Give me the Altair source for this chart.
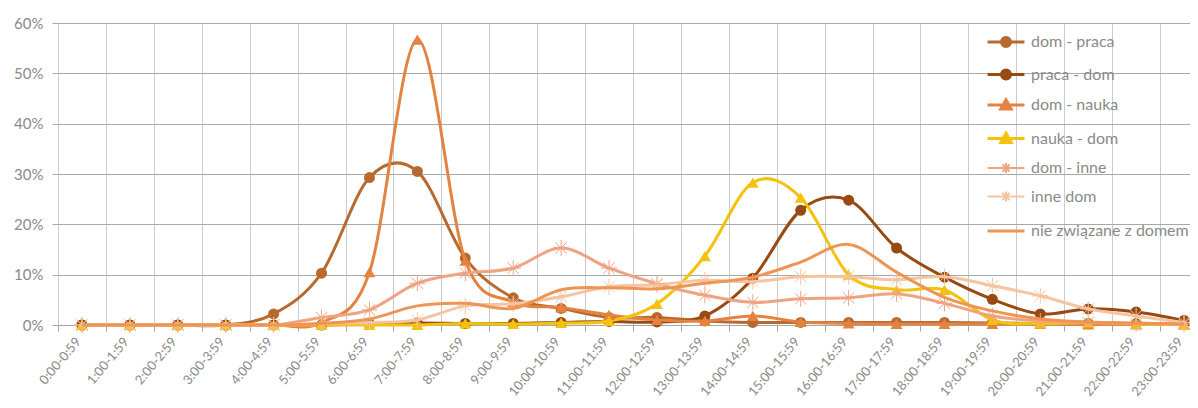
import altair as alt
import pandas as pd

hours = ["0:00-0:59", "1:00-1:59", "2:00-2:59", "3:00-3:59", "4:00-4:59", "5:00-5:59",
         "6:00-6:59", "7:00-7:59", "8:00-8:59", "9:00-9:59", "10:00-10:59", "11:00-11:59",
         "12:00-12:59", "13:00-13:59", "14:00-14:59", "15:00-15:59", "16:00-16:59",
         "17:00-17:59", "18:00-18:59", "19:00-19:59", "20:00-20:59", "21:00-21:59",
         "22:00-22:59", "23:00-23:59"]

series_names = ["dom - praca", "praca - dom", "dom - nauka", "nauka - dom",
                "dom - inne", "inne dom", "nie związane z domem"]

# values in percent
dom_praca = [0, 0, 0, 0, 2.2, 10.3, 29.3, 30.5, 13.3, 5.4, 3.3, 1.5, 1.5, 0.8, 0.5, 0.5, 0.5, 0.5, 0.5, 0.4, 0.3, 0.3, 0.3, 0.2]
praca_dom = [0, 0, 0, 0, 0, 0, 0.2, 0.4, 0.3, 0.3, 0.5, 0.7, 0.6, 1.8, 9.3, 22.8, 24.8, 15.3, 9.5, 5.1, 2.2, 3.2, 2.6, 0.9]
dom_nauka = [0, 0, 0, 0, 0, 0.5, 10.5, 56.7, 12.8, 4.6, 3.5, 2.0, 1.0, 0.8, 1.8, 0.6, 0.3, 0.2, 0.2, 0.2, 0.2, 0.1, 0.1, 0.1]
nauka_dom = [0, 0, 0, 0, 0, 0, 0, 0, 0.3, 0.2, 0.4, 0.8, 4.2, 13.7, 28.3, 25.3, 10.0, 7.0, 7.0, 1.0, 0.3, 0.5, 0.2, 0.1]
dom_inne = [0, 0, 0, 0, 0, 1.5, 3.0, 8.3, 10.3, 11.3, 15.3, 11.3, 8.2, 5.9, 4.5, 5.2, 5.4, 6.2, 4.3, 1.8, 0.8, 0.5, 0.3, 0.2]
inne_dom = [0, 0, 0, 0, 0, 0.3, 0.5, 1.0, 3.8, 4.2, 5.6, 7.6, 8.0, 8.9, 8.6, 9.6, 9.6, 9.0, 9.6, 7.8, 5.8, 3.2, 1.8, 0.5]
nie_zwiazane = [0, 0, 0, 0, 0, 0.3, 1.2, 3.8, 4.3, 3.3, 7.0, 7.4, 7.2, 8.3, 9.5, 12.5, 16.0, 10.5, 5.5, 2.8, 1.2, 0.6, 0.4, 0.2]

colors = ["#B8692F", "#974A12", "#E3833F", "#F4C20D", "#F0A381", "#F6C4A1", "#EE9556"]

STAR = "M-1,0L1,0M0,-1L0,1M-0.7,-0.7L0.7,0.7M-0.7,0.7L0.7,-0.7"
SYM_CIRCLE = "M-4.1,0H4.1M1,0A1,1,0,1,1,-1,0A1,1,0,1,1,1,0Z"
SYM_TRIANGLE = "M-4.1,0H4.1M0,-1.15L1.15,0.9L-1.15,0.9Z"
SYM_STAR = "M-4.1,0H4.1M0,-1.1L0,1.1M-0.8,-0.8L0.8,0.8M-0.8,0.8L0.8,-0.8"
SYM_LINE = "M-4.1,0H4.1"

all_values = [dom_praca, praca_dom, dom_nauka, nauka_dom, dom_inne, inne_dom, nie_zwiazane]
rows = []
for name, vals in zip(series_names, all_values):
    for h, v in zip(hours, vals):
        rows.append({"hour": h, "series": name, "value": v / 100.0})
df = pd.DataFrame(rows)

FONT = "Lato"
LABEL_COLOR = "#8A8A8A"

xaxis = alt.Axis(tickBand="extent", grid=True, gridColor="#C8CCD2", gridWidth=1,
                 domainColor="#A6A6A6", tickColor="#A6A6A6", tickSize=6,
                 labelAngle=-50, labelAlign="right", labelBaseline="middle",
                 labelPadding=8, labelOffset=-4, labelFontSize=13, labelColor=LABEL_COLOR,
                 labelFont=FONT, title=None)
yaxis = alt.Axis(values=[0, 0.1, 0.2, 0.3, 0.4, 0.5, 0.6], format=".0%", grid=True,
                 gridColor="#A8A8A8", domain=False, tickColor="#A8A8A8", tickSize=6,
                 labelPadding=9, labelFontSize=15, labelColor=LABEL_COLOR, labelFont=FONT,
                 title=None)

X = alt.X("hour:N", sort=hours, axis=xaxis,
          scale=alt.Scale(type="band", domain=hours, range=[0, 1150], paddingInner=0, paddingOuter=0))
Y = alt.Y("value:Q", axis=yaxis, scale=alt.Scale(domain=[0, 0.6], nice=False))

base = alt.Chart(df)


def make_legend(sym, legend_y, stroke_w):
    return alt.Legend(orient="none", legendX=940, legendY=legend_y, title=None,
                      symbolType=sym, symbolSize=81, symbolStrokeWidth=stroke_w,
                      labelFontSize=16, labelColor=LABEL_COLOR, labelFont=FONT,
                      labelOffset=17, rowPadding=10.5, padding=0)


def group(idx, marker, sym, legend_y, sym_stroke):
    names = [series_names[i] for i in idx]
    cols = [colors[i] for i in idx]
    leg = make_legend(sym, legend_y, sym_stroke)
    col = alt.Color("series:N", scale=alt.Scale(domain=names, range=cols), legend=leg)
    sub = base.transform_filter(alt.FieldOneOfPredicate(field="series", oneOf=names))
    line = sub.mark_line(interpolate="cardinal", strokeWidth=3).encode(x=X, y=Y, color=col)
    if marker is None:
        return line
    if marker == "star":
        pts = sub.mark_point(shape=STAR, filled=False, size=256, strokeWidth=1, opacity=1).encode(
            x=X, y=Y, color=col)
    else:
        size = 121 if marker == "circle" else 140
        pts = sub.mark_point(shape=marker, filled=True, size=size, opacity=1).encode(
            x=X, y=Y, color=col)
    return alt.layer(line, pts)


gA = group([0, 1], "circle", SYM_CIRCLE, 11, 3)
gB = group([2, 3], "triangle-up", SYM_TRIANGLE, 74, 3)
gC = group([4, 5], "star", SYM_STAR, 137, 2)
gD = group([6], None, SYM_LINE, 200, 3)

chart = alt.layer(gA, gB, gC, gD).resolve_scale(color="independent").properties(
    width=1132, height=302,
    autosize=alt.AutoSizeParams(type="none"),
    padding={"left": 50, "top": 15, "right": 0, "bottom": 83},
).configure_view(stroke=None).configure(background="white")

chart.save("out.html", embed_options={"renderer": "svg", "actions": False})
